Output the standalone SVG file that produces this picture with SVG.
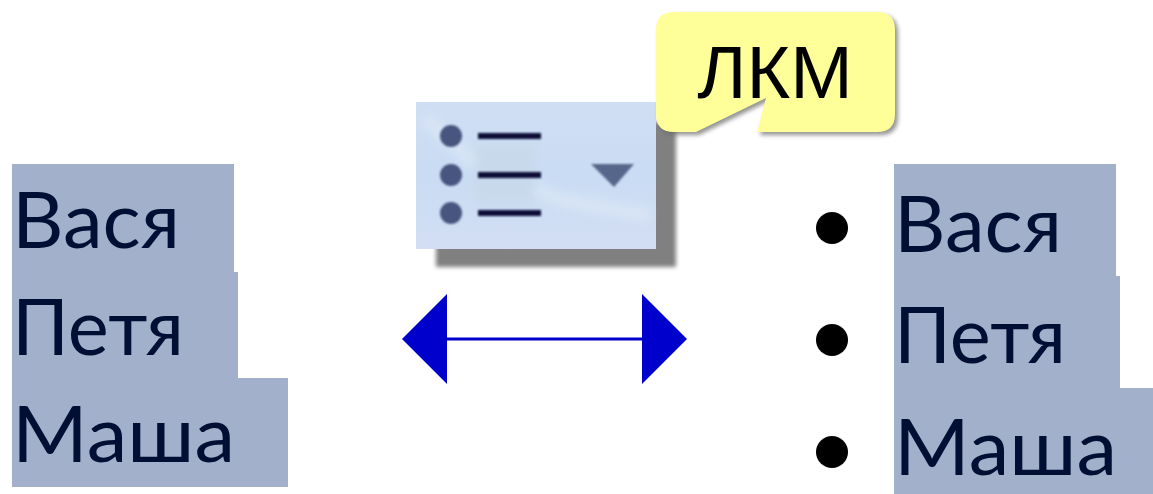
<svg xmlns="http://www.w3.org/2000/svg" width="1153" height="494" viewBox="0 0 1153 494">
<style>
.t{font-family:Lato,"Open Sans","Liberation Sans",sans-serif;font-size:77px;fill:#000f33}
.s{fill:#a3b0cb}
.d{fill:#000}
.ln{stroke:#0c0c38;stroke-width:6;fill:none}
.dot{fill:#46557f}
</style>
<defs>
<filter id="b1" x="-10%" y="-10%" width="120%" height="120%"><feGaussianBlur stdDeviation="2"/></filter>
<filter id="b2" x="-20%" y="-20%" width="140%" height="140%"><feGaussianBlur stdDeviation="1.2"/></filter>
<filter id="b3" x="-20%" y="-20%" width="140%" height="140%"><feGaussianBlur stdDeviation="5"/></filter>
<linearGradient id="ic" x1="0" y1="0" x2="0" y2="1"><stop offset="0" stop-color="#d0def3"/><stop offset=".5" stop-color="#c9dcf3"/><stop offset="1" stop-color="#d3def4"/></linearGradient>
</defs>
<g id="list-left">
<path class="s" d="M12 164H234V272H238V378H288V487H12Z"/>
<text class="t" x="12" y="248" textLength="168" lengthAdjust="spacingAndGlyphs">Вася</text>
<text class="t" x="12" y="355" textLength="172" lengthAdjust="spacingAndGlyphs">Петя</text>
<text class="t" x="12" y="462" textLength="223" lengthAdjust="spacingAndGlyphs">Маша</text>
</g>
<g id="list-button">
<rect x="436" y="122" width="240" height="145" fill="#808080" filter="url(#b1)"/>
<rect x="416" y="102" width="240" height="147" fill="url(#ic)"/>
<g filter="url(#b3)" opacity=".3"><path d="M425 118L470 160L560 200L650 215" stroke="#f2f6fc" stroke-width="14" fill="none"/><rect x="475" y="145" width="60" height="60" fill="#c6d3dc"/></g>
<g filter="url(#b2)">
<circle class="dot" cx="451" cy="136" r="11"/><circle class="dot" cx="451" cy="175" r="11"/><circle class="dot" cx="451" cy="213" r="11"/>
<path class="ln" d="M478 136H541M478 175H541M478 213H541"/>
<path d="M591 164H634L614 187Z" fill="#56668a"/>
</g>
</g>
<g id="callout-lkm">
<path d="M674 12H877Q895 12 895 30V114Q895 132 877 132H757L766 98L696 132H674Q656 132 656 114V30Q656 12 674 12Z" fill="#666" opacity=".7" filter="url(#b1)" transform="translate(3 3)"/>
<path d="M674 12H877Q895 12 895 30V114Q895 132 877 132H757L766 98L696 132H674Q656 132 656 114V30Q656 12 674 12Z" fill="#ffff99"/>
<text x="775" y="98" text-anchor="middle" style="font-family:'Liberation Sans',Arial,sans-serif;font-size:75px;fill:#000">ЛКМ</text>
</g>
<g id="connectors">
<path d="M447 339H642" stroke="#0000cc" stroke-width="3" fill="none"/>
<path d="M402 339L447 294V384Z" fill="#0000cc"/>
<path d="M687 339L642 294V384Z" fill="#0000cc"/>
</g>
<g id="list-right">
<path class="s" d="M894 164H1116V276H1120V388H1153V494H894Z"/>
<circle class="d" cx="832" cy="228" r="16"/><circle class="d" cx="832" cy="340" r="16"/><circle class="d" cx="832" cy="452" r="16"/>
<text class="t" x="894" y="252" textLength="168" lengthAdjust="spacingAndGlyphs">Вася</text>
<text class="t" x="894" y="363" textLength="172" lengthAdjust="spacingAndGlyphs">Петя</text>
<text class="t" x="894" y="475" textLength="223" lengthAdjust="spacingAndGlyphs">Маша</text>
</g>
</svg>
